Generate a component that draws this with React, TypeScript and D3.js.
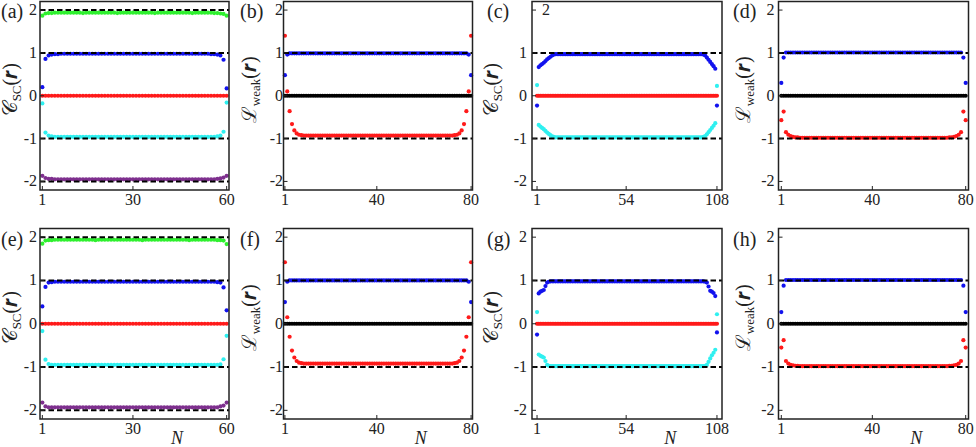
import React from "react";
import * as d3 from "d3";

// tick labels
const ticks60 = [1, 30, 60];
const ticks80 = [1, 40, 80];
const ticks108 = [1, 54, 108];
const yTicks = [-2, -1, 0, 1, 2];

// (a) C_SC, N = 60
const aGreen = [
  1.87, 1.92, 1.93, 1.93, 1.94, 1.94, 1.94, 1.94, 1.94, 1.94,
  1.94, 1.94, 1.94, 1.93, 1.94, 1.94, 1.94, 1.94, 1.94, 1.94,
  1.94, 1.94, 1.94, 1.94, 1.93, 1.94, 1.94, 1.94, 1.94, 1.94,
  1.94, 1.94, 1.94, 1.94, 1.94, 1.94, 1.93, 1.94, 1.94, 1.94,
  1.94, 1.94, 1.94, 1.94, 1.94, 1.94, 1.94, 1.94, 1.93, 1.94,
  1.94, 1.94, 1.94, 1.94, 1.94, 1.93, 1.93, 1.92, 1.91, 1.87,
];
const aBlue = [
  0.2, 0.86, 0.94, 0.96, 0.97, 0.97, 0.98, 0.98, 0.98, 0.98,
  0.98, 0.98, 0.98, 0.98, 0.98, 0.98, 0.98, 0.98, 0.98, 0.98,
  0.98, 0.98, 0.98, 0.98, 0.98, 0.98, 0.98, 0.98, 0.98, 0.98,
  0.98, 0.98, 0.98, 0.98, 0.98, 0.98, 0.98, 0.98, 0.98, 0.98,
  0.98, 0.98, 0.98, 0.98, 0.98, 0.98, 0.98, 0.98, 0.98, 0.98,
  0.98, 0.98, 0.98, 0.98, 0.97, 0.97, 0.96, 0.94, 0.84, 0.17,
];
const aRed = [
  0, 0, 0, 0, 0, 0, 0, 0, 0, 0,
  0, 0, 0, 0, 0, 0, 0, 0, 0, 0,
  0, 0, 0, 0, 0, 0, 0, 0, 0, 0,
  0, 0, 0, 0, 0, 0, 0, 0, 0, 0,
  0, 0, 0, 0, 0, 0, 0, 0, 0, 0,
  0, 0, 0, 0, 0, 0, 0, 0, 0, 0,
];
const aCyan = [
  -0.18, -0.86, -0.93, -0.95, -0.96, -0.96, -0.96, -0.96, -0.96, -0.96,
  -0.96, -0.96, -0.96, -0.96, -0.96, -0.96, -0.96, -0.96, -0.96, -0.96,
  -0.96, -0.96, -0.96, -0.96, -0.96, -0.96, -0.96, -0.96, -0.96, -0.96,
  -0.96, -0.96, -0.96, -0.96, -0.96, -0.96, -0.96, -0.96, -0.96, -0.96,
  -0.96, -0.96, -0.96, -0.96, -0.96, -0.96, -0.96, -0.96, -0.96, -0.96,
  -0.96, -0.96, -0.96, -0.96, -0.96, -0.96, -0.95, -0.93, -0.84, -0.16,
];
const aPurple = [
  -1.87, -1.92, -1.94, -1.94, -1.95, -1.95, -1.95, -1.95, -1.95, -1.95,
  -1.95, -1.95, -1.95, -1.95, -1.95, -1.95, -1.95, -1.95, -1.95, -1.95,
  -1.95, -1.95, -1.95, -1.95, -1.95, -1.95, -1.95, -1.95, -1.95, -1.95,
  -1.95, -1.95, -1.95, -1.95, -1.95, -1.95, -1.95, -1.95, -1.95, -1.95,
  -1.95, -1.95, -1.95, -1.95, -1.95, -1.95, -1.95, -1.95, -1.95, -1.95,
  -1.95, -1.95, -1.95, -1.95, -1.95, -1.95, -1.94, -1.93, -1.91, -1.87,
];

// (b) L_weak, N = 80
const bBlue = [
  0.48, 0.96, 0.99, 0.99, 0.99, 0.99, 0.99, 0.99, 0.99, 0.99,
  0.99, 0.99, 0.99, 0.99, 0.99, 0.99, 0.99, 0.99, 0.99, 0.99,
  0.99, 0.99, 0.99, 0.99, 0.99, 0.99, 0.99, 0.99, 0.99, 0.99,
  0.99, 0.99, 0.99, 0.99, 0.99, 0.99, 0.99, 0.99, 0.99, 0.99,
  0.99, 0.99, 0.99, 0.99, 0.99, 0.99, 0.99, 0.99, 0.99, 0.99,
  0.99, 0.99, 0.99, 0.99, 0.99, 0.99, 0.99, 0.99, 0.99, 0.99,
  0.99, 0.99, 0.99, 0.99, 0.99, 0.99, 0.99, 0.99, 0.99, 0.99,
  0.99, 0.99, 0.99, 0.99, 0.99, 0.99, 0.99, 0.99, 0.96, 0.48,
];
const bBlack = [
  0, 0, 0, 0, 0, 0, 0, 0, 0, 0,
  0, 0, 0, 0, 0, 0, 0, 0, 0, 0,
  0, 0, 0, 0, 0, 0, 0, 0, 0, 0,
  0, 0, 0, 0, 0, 0, 0, 0, 0, 0,
  0, 0, 0, 0, 0, 0, 0, 0, 0, 0,
  0, 0, 0, 0, 0, 0, 0, 0, 0, 0,
  0, 0, 0, 0, 0, 0, 0, 0, 0, 0,
  0, 0, 0, 0, 0, 0, 0, 0, 0, 0,
];
const bRed = [
  1.4, 0.1, -0.36, -0.66, -0.81, -0.88, -0.91, -0.92, -0.93, -0.93,
  -0.93, -0.93, -0.93, -0.93, -0.93, -0.93, -0.93, -0.93, -0.93, -0.93,
  -0.93, -0.93, -0.93, -0.93, -0.93, -0.93, -0.93, -0.93, -0.93, -0.93,
  -0.93, -0.93, -0.93, -0.93, -0.93, -0.93, -0.93, -0.93, -0.93, -0.93,
  -0.93, -0.93, -0.93, -0.93, -0.93, -0.93, -0.93, -0.93, -0.93, -0.93,
  -0.93, -0.93, -0.93, -0.93, -0.93, -0.93, -0.93, -0.93, -0.93, -0.93,
  -0.93, -0.93, -0.93, -0.93, -0.93, -0.93, -0.93, -0.93, -0.93, -0.93,
  -0.93, -0.93, -0.92, -0.91, -0.88, -0.81, -0.66, -0.36, 0.1, 1.4,
];

// (c) C_SC, N = 108
const cBlue = [
  -0.23, 0.67, 0.71, 0.74, 0.77, 0.81, 0.85, 0.88, 0.91, 0.94,
  0.96, 0.97, 0.97, 0.97, 0.97, 0.97, 0.97, 0.97, 0.97, 0.97,
  0.97, 0.97, 0.97, 0.97, 0.97, 0.97, 0.97, 0.97, 0.97, 0.97,
  0.97, 0.97, 0.97, 0.97, 0.97, 0.97, 0.97, 0.97, 0.97, 0.97,
  0.97, 0.97, 0.97, 0.97, 0.97, 0.97, 0.97, 0.97, 0.97, 0.97,
  0.97, 0.97, 0.97, 0.97, 0.97, 0.97, 0.97, 0.97, 0.97, 0.97,
  0.97, 0.97, 0.97, 0.97, 0.97, 0.97, 0.97, 0.97, 0.97, 0.97,
  0.97, 0.97, 0.97, 0.97, 0.97, 0.97, 0.97, 0.97, 0.97, 0.97,
  0.97, 0.97, 0.97, 0.97, 0.97, 0.97, 0.97, 0.97, 0.97, 0.97,
  0.97, 0.97, 0.97, 0.97, 0.97, 0.97, 0.97, 0.97, 0.97, 0.96,
  0.94, 0.89, 0.84, 0.79, 0.74, 0.69, 0.63, -0.23,
];
const cRed = [
  0, 0, 0, 0, 0, 0, 0, 0, 0, 0,
  0, 0, 0, 0, 0, 0, 0, 0, 0, 0,
  0, 0, 0, 0, 0, 0, 0, 0, 0, 0,
  0, 0, 0, 0, 0, 0, 0, 0, 0, 0,
  0, 0, 0, 0, 0, 0, 0, 0, 0, 0,
  0, 0, 0, 0, 0, 0, 0, 0, 0, 0,
  0, 0, 0, 0, 0, 0, 0, 0, 0, 0,
  0, 0, 0, 0, 0, 0, 0, 0, 0, 0,
  0, 0, 0, 0, 0, 0, 0, 0, 0, 0,
  0, 0, 0, 0, 0, 0, 0, 0, 0, 0,
  0, 0, 0, 0, 0, 0, 0, 0,
];
const cCyan = [
  0.25, -0.68, -0.72, -0.75, -0.78, -0.82, -0.86, -0.89, -0.92, -0.95,
  -0.96, -0.97, -0.97, -0.97, -0.97, -0.97, -0.97, -0.97, -0.97, -0.97,
  -0.97, -0.97, -0.97, -0.97, -0.97, -0.97, -0.97, -0.97, -0.97, -0.97,
  -0.97, -0.97, -0.97, -0.97, -0.97, -0.97, -0.97, -0.97, -0.97, -0.97,
  -0.97, -0.97, -0.97, -0.97, -0.97, -0.97, -0.97, -0.97, -0.97, -0.97,
  -0.97, -0.97, -0.97, -0.97, -0.97, -0.97, -0.97, -0.97, -0.97, -0.97,
  -0.97, -0.97, -0.97, -0.97, -0.97, -0.97, -0.97, -0.97, -0.97, -0.97,
  -0.97, -0.97, -0.97, -0.97, -0.97, -0.97, -0.97, -0.97, -0.97, -0.97,
  -0.97, -0.97, -0.97, -0.97, -0.97, -0.97, -0.97, -0.97, -0.97, -0.97,
  -0.97, -0.97, -0.97, -0.97, -0.97, -0.97, -0.97, -0.97, -0.97, -0.96,
  -0.94, -0.9, -0.85, -0.8, -0.75, -0.7, -0.64, 0.23,
];

// (d) L_weak, N = 80
const dBlue = [
  0.3, 0.89, 1.01, 1.01, 1.01, 1.01, 1.01, 1.01, 1.01, 1.01,
  1.01, 1.01, 1.01, 1.01, 1.01, 1.01, 1.01, 1.01, 1.01, 1.01,
  1.01, 1.01, 1.01, 1.01, 1.01, 1.01, 1.01, 1.01, 1.01, 1.01,
  1.01, 1.01, 1.01, 1.01, 1.01, 1.01, 1.01, 1.01, 1.01, 1.01,
  1.01, 1.01, 1.01, 1.01, 1.01, 1.01, 1.01, 1.01, 1.01, 1.01,
  1.01, 1.01, 1.01, 1.01, 1.01, 1.01, 1.01, 1.01, 1.01, 1.01,
  1.01, 1.01, 1.01, 1.01, 1.01, 1.01, 1.01, 1.01, 1.01, 1.01,
  1.01, 1.01, 1.01, 1.01, 1.01, 1.01, 1.01, 1.01, 0.89, 0.3,
];
const dBlack = [
  0, 0, 0, 0, 0, 0, 0, 0, 0, 0,
  0, 0, 0, 0, 0, 0, 0, 0, 0, 0,
  0, 0, 0, 0, 0, 0, 0, 0, 0, 0,
  0, 0, 0, 0, 0, 0, 0, 0, 0, 0,
  0, 0, 0, 0, 0, 0, 0, 0, 0, 0,
  0, 0, 0, 0, 0, 0, 0, 0, 0, 0,
  0, 0, 0, 0, 0, 0, 0, 0, 0, 0,
  0, 0, 0, 0, 0, 0, 0, 0, 0, 0,
];
const dRed = [
  -0.57, -0.37, -0.85, -0.91, -0.94, -0.96, -0.97, -0.97, -0.98, -0.98,
  -0.98, -0.98, -0.98, -0.98, -0.98, -0.98, -0.98, -0.98, -0.98, -0.98,
  -0.98, -0.98, -0.98, -0.98, -0.98, -0.98, -0.98, -0.98, -0.98, -0.98,
  -0.98, -0.98, -0.98, -0.98, -0.98, -0.98, -0.98, -0.98, -0.98, -0.98,
  -0.98, -0.98, -0.98, -0.98, -0.98, -0.98, -0.98, -0.98, -0.98, -0.98,
  -0.98, -0.98, -0.98, -0.98, -0.98, -0.98, -0.98, -0.98, -0.98, -0.98,
  -0.98, -0.98, -0.98, -0.98, -0.98, -0.98, -0.98, -0.98, -0.98, -0.98,
  -0.98, -0.98, -0.97, -0.97, -0.96, -0.94, -0.91, -0.85, -0.37, -0.57,
];

// (e) C_SC, N = 60
const eGreen = [
  1.85, 1.92, 1.93, 1.93, 1.94, 1.94, 1.94, 1.94, 1.94, 1.94,
  1.94, 1.94, 1.94, 1.94, 1.94, 1.94, 1.94, 1.93, 1.94, 1.94,
  1.94, 1.94, 1.94, 1.94, 1.94, 1.94, 1.94, 1.94, 1.94, 1.94,
  1.94, 1.94, 1.93, 1.94, 1.94, 1.94, 1.94, 1.94, 1.94, 1.94,
  1.94, 1.94, 1.94, 1.94, 1.94, 1.94, 1.94, 1.93, 1.94, 1.94,
  1.94, 1.94, 1.94, 1.94, 1.94, 1.94, 1.93, 1.93, 1.92, 1.84,
];
const eBlue = [
  0.4, 0.85, 0.95, 0.96, 0.97, 0.97, 0.97, 0.97, 0.97, 0.97,
  0.97, 0.97, 0.97, 0.97, 0.97, 0.97, 0.97, 0.97, 0.97, 0.97,
  0.97, 0.97, 0.97, 0.97, 0.97, 0.97, 0.97, 0.97, 0.97, 0.97,
  0.97, 0.97, 0.97, 0.97, 0.97, 0.97, 0.97, 0.97, 0.97, 0.97,
  0.97, 0.97, 0.97, 0.97, 0.97, 0.97, 0.97, 0.97, 0.97, 0.97,
  0.97, 0.97, 0.97, 0.97, 0.97, 0.97, 0.96, 0.95, 0.84, 0.31,
];
const eRed = [
  0, 0, 0, 0, 0, 0, 0, 0, 0, 0,
  0, 0, 0, 0, 0, 0, 0, 0, 0, 0,
  0, 0, 0, 0, 0, 0, 0, 0, 0, 0,
  0, 0, 0, 0, 0, 0, 0, 0, 0, 0,
  0, 0, 0, 0, 0, 0, 0, 0, 0, 0,
  0, 0, 0, 0, 0, 0, 0, 0, 0, 0,
];
const eCyan = [
  -0.17, -0.83, -0.93, -0.95, -0.95, -0.95, -0.95, -0.95, -0.95, -0.95,
  -0.95, -0.95, -0.95, -0.95, -0.95, -0.95, -0.95, -0.95, -0.95, -0.95,
  -0.95, -0.95, -0.95, -0.95, -0.95, -0.95, -0.95, -0.95, -0.95, -0.95,
  -0.95, -0.95, -0.95, -0.95, -0.95, -0.95, -0.95, -0.95, -0.95, -0.95,
  -0.95, -0.95, -0.95, -0.95, -0.95, -0.95, -0.95, -0.95, -0.95, -0.95,
  -0.95, -0.95, -0.95, -0.95, -0.95, -0.95, -0.95, -0.94, -0.82, -0.28,
];
const ePurple = [
  -1.82, -1.91, -1.93, -1.93, -1.93, -1.93, -1.93, -1.93, -1.93, -1.93,
  -1.93, -1.93, -1.93, -1.93, -1.93, -1.93, -1.93, -1.93, -1.93, -1.93,
  -1.93, -1.93, -1.93, -1.93, -1.93, -1.93, -1.93, -1.93, -1.93, -1.93,
  -1.93, -1.93, -1.93, -1.93, -1.93, -1.93, -1.93, -1.93, -1.93, -1.93,
  -1.93, -1.93, -1.93, -1.93, -1.93, -1.93, -1.93, -1.93, -1.93, -1.93,
  -1.93, -1.93, -1.93, -1.93, -1.93, -1.93, -1.93, -1.91, -1.89, -1.82,
];

// (f) L_weak, N = 80
const fBlue = [
  0.5, 0.97, 1.0, 1.0, 1.0, 1.0, 1.0, 1.0, 1.0, 1.0,
  1.0, 1.0, 1.0, 1.0, 1.0, 1.0, 1.0, 1.0, 1.0, 1.0,
  1.0, 1.0, 1.0, 1.0, 1.0, 1.0, 1.0, 1.0, 1.0, 1.0,
  1.0, 1.0, 1.0, 1.0, 1.0, 1.0, 1.0, 1.0, 1.0, 1.0,
  1.0, 1.0, 1.0, 1.0, 1.0, 1.0, 1.0, 1.0, 1.0, 1.0,
  1.0, 1.0, 1.0, 1.0, 1.0, 1.0, 1.0, 1.0, 1.0, 1.0,
  1.0, 1.0, 1.0, 1.0, 1.0, 1.0, 1.0, 1.0, 1.0, 1.0,
  1.0, 1.0, 1.0, 1.0, 1.0, 1.0, 1.0, 1.0, 0.97, 0.5,
];
const fBlack = [
  0, 0, 0, 0, 0, 0, 0, 0, 0, 0,
  0, 0, 0, 0, 0, 0, 0, 0, 0, 0,
  0, 0, 0, 0, 0, 0, 0, 0, 0, 0,
  0, 0, 0, 0, 0, 0, 0, 0, 0, 0,
  0, 0, 0, 0, 0, 0, 0, 0, 0, 0,
  0, 0, 0, 0, 0, 0, 0, 0, 0, 0,
  0, 0, 0, 0, 0, 0, 0, 0, 0, 0,
  0, 0, 0, 0, 0, 0, 0, 0, 0, 0,
];
const fRed = [
  1.42, 0.15, -0.3, -0.62, -0.78, -0.86, -0.9, -0.91, -0.92, -0.92,
  -0.92, -0.92, -0.92, -0.92, -0.92, -0.92, -0.92, -0.92, -0.92, -0.92,
  -0.92, -0.92, -0.92, -0.92, -0.92, -0.92, -0.92, -0.92, -0.92, -0.92,
  -0.92, -0.92, -0.92, -0.92, -0.92, -0.92, -0.92, -0.92, -0.92, -0.92,
  -0.92, -0.92, -0.92, -0.92, -0.92, -0.92, -0.92, -0.92, -0.92, -0.92,
  -0.92, -0.92, -0.92, -0.92, -0.92, -0.92, -0.92, -0.92, -0.92, -0.92,
  -0.92, -0.92, -0.92, -0.92, -0.92, -0.92, -0.92, -0.92, -0.92, -0.92,
  -0.92, -0.92, -0.91, -0.9, -0.86, -0.78, -0.62, -0.3, 0.15, 1.42,
];

// (g) C_SC, N = 108
const gBlue = [
  -0.25, 0.7, 0.74, 0.76, 0.78, 0.87, 0.95, 0.97, 0.98, 0.98,
  0.98, 0.98, 0.98, 0.98, 0.98, 0.98, 0.98, 0.98, 0.98, 0.98,
  0.98, 0.98, 0.98, 0.98, 0.98, 0.98, 0.98, 0.98, 0.98, 0.98,
  0.98, 0.98, 0.98, 0.98, 0.98, 0.98, 0.98, 0.98, 0.98, 0.98,
  0.98, 0.98, 0.98, 0.98, 0.98, 0.98, 0.98, 0.98, 0.98, 0.98,
  0.98, 0.98, 0.98, 0.98, 0.98, 0.98, 0.98, 0.98, 0.98, 0.98,
  0.98, 0.98, 0.98, 0.98, 0.98, 0.98, 0.98, 0.98, 0.98, 0.98,
  0.98, 0.98, 0.98, 0.98, 0.98, 0.98, 0.98, 0.98, 0.98, 0.98,
  0.98, 0.98, 0.98, 0.98, 0.98, 0.98, 0.98, 0.98, 0.98, 0.98,
  0.98, 0.98, 0.98, 0.98, 0.98, 0.98, 0.98, 0.98, 0.98, 0.98,
  0.97, 0.95, 0.86, 0.76, 0.74, 0.71, 0.64, -0.2,
];
const gRed = [
  0, 0, 0, 0, 0, 0, 0, 0, 0, 0,
  0, 0, 0, 0, 0, 0, 0, 0, 0, 0,
  0, 0, 0, 0, 0, 0, 0, 0, 0, 0,
  0, 0, 0, 0, 0, 0, 0, 0, 0, 0,
  0, 0, 0, 0, 0, 0, 0, 0, 0, 0,
  0, 0, 0, 0, 0, 0, 0, 0, 0, 0,
  0, 0, 0, 0, 0, 0, 0, 0, 0, 0,
  0, 0, 0, 0, 0, 0, 0, 0, 0, 0,
  0, 0, 0, 0, 0, 0, 0, 0, 0, 0,
  0, 0, 0, 0, 0, 0, 0, 0, 0, 0,
  0, 0, 0, 0, 0, 0, 0, 0,
];
const gCyan = [
  0.27, -0.71, -0.74, -0.76, -0.78, -0.86, -0.95, -0.97, -0.98, -0.98,
  -0.98, -0.98, -0.98, -0.98, -0.98, -0.98, -0.98, -0.98, -0.98, -0.98,
  -0.98, -0.98, -0.98, -0.98, -0.98, -0.98, -0.98, -0.98, -0.98, -0.98,
  -0.98, -0.98, -0.98, -0.98, -0.98, -0.98, -0.98, -0.98, -0.98, -0.98,
  -0.98, -0.98, -0.98, -0.98, -0.98, -0.98, -0.98, -0.98, -0.98, -0.98,
  -0.98, -0.98, -0.98, -0.98, -0.98, -0.98, -0.98, -0.98, -0.98, -0.98,
  -0.98, -0.98, -0.98, -0.98, -0.98, -0.98, -0.98, -0.98, -0.98, -0.98,
  -0.98, -0.98, -0.98, -0.98, -0.98, -0.98, -0.98, -0.98, -0.98, -0.98,
  -0.98, -0.98, -0.98, -0.98, -0.98, -0.98, -0.98, -0.98, -0.98, -0.98,
  -0.98, -0.98, -0.98, -0.98, -0.98, -0.98, -0.98, -0.98, -0.98, -0.98,
  -0.97, -0.95, -0.88, -0.8, -0.73, -0.67, -0.6, 0.22,
];

// (h) L_weak, N = 80
const hBlue = [
  0.27, 0.88, 1.01, 1.01, 1.01, 1.01, 1.01, 1.01, 1.01, 1.01,
  1.01, 1.01, 1.01, 1.01, 1.01, 1.01, 1.01, 1.01, 1.01, 1.01,
  1.01, 1.01, 1.01, 1.01, 1.01, 1.01, 1.01, 1.01, 1.01, 1.01,
  1.01, 1.01, 1.01, 1.01, 1.01, 1.01, 1.01, 1.01, 1.01, 1.01,
  1.01, 1.01, 1.01, 1.01, 1.01, 1.01, 1.01, 1.01, 1.01, 1.01,
  1.01, 1.01, 1.01, 1.01, 1.01, 1.01, 1.01, 1.01, 1.01, 1.01,
  1.01, 1.01, 1.01, 1.01, 1.01, 1.01, 1.01, 1.01, 1.01, 1.01,
  1.01, 1.01, 1.01, 1.01, 1.01, 1.01, 1.01, 1.01, 0.88, 0.27,
];
const hBlack = [
  0, 0, 0, 0, 0, 0, 0, 0, 0, 0,
  0, 0, 0, 0, 0, 0, 0, 0, 0, 0,
  0, 0, 0, 0, 0, 0, 0, 0, 0, 0,
  0, 0, 0, 0, 0, 0, 0, 0, 0, 0,
  0, 0, 0, 0, 0, 0, 0, 0, 0, 0,
  0, 0, 0, 0, 0, 0, 0, 0, 0, 0,
  0, 0, 0, 0, 0, 0, 0, 0, 0, 0,
  0, 0, 0, 0, 0, 0, 0, 0, 0, 0,
];
const hRed = [
  -0.55, -0.38, -0.86, -0.92, -0.95, -0.96, -0.97, -0.97, -0.98, -0.98,
  -0.98, -0.98, -0.98, -0.98, -0.98, -0.98, -0.98, -0.98, -0.98, -0.98,
  -0.98, -0.98, -0.98, -0.98, -0.98, -0.98, -0.98, -0.98, -0.98, -0.98,
  -0.98, -0.98, -0.98, -0.98, -0.98, -0.98, -0.98, -0.98, -0.98, -0.98,
  -0.98, -0.98, -0.98, -0.98, -0.98, -0.98, -0.98, -0.98, -0.98, -0.98,
  -0.98, -0.98, -0.98, -0.98, -0.98, -0.98, -0.98, -0.98, -0.98, -0.98,
  -0.98, -0.98, -0.98, -0.98, -0.98, -0.98, -0.98, -0.98, -0.98, -0.98,
  -0.98, -0.98, -0.97, -0.97, -0.96, -0.95, -0.92, -0.86, -0.38, -0.55,
];

const GREEN = "#2ef02e";
const BLUE = "#1212ee";
const RED = "#ff1a1a";
const CYAN = "#2ff0f0";
const PURPLE = "#7e2f8e";
const BLACK = "#000";

const INK = "#222";
// serif face, set on every text so nothing falls back to a sans
const TXT = { fontFamily: "Liberation Serif" };

type Series = { values: number[]; color: string };
type PanelDef = {
  letter: string;
  kind: "sc" | "weak";
  ticks: number[];
  series: Series[];
  dashed: number[];
};

const panels: PanelDef[] = [
  { letter: "a", kind: "sc", ticks: ticks60, dashed: [2, 1, -1, -2],
    series: [{ values: aRed, color: RED }, { values: aGreen, color: GREEN }, { values: aBlue, color: BLUE }, { values: aCyan, color: CYAN }, { values: aPurple, color: PURPLE }] },
  { letter: "b", kind: "weak", ticks: ticks80, dashed: [1, -1],
    series: [{ values: bBlack, color: BLACK }, { values: bBlue, color: BLUE }, { values: bRed, color: RED }] },
  { letter: "c", kind: "sc", ticks: ticks108, dashed: [1, -1],
    series: [{ values: cRed, color: RED }, { values: cBlue, color: BLUE }, { values: cCyan, color: CYAN }] },
  { letter: "d", kind: "weak", ticks: ticks80, dashed: [1, -1],
    series: [{ values: dBlack, color: BLACK }, { values: dBlue, color: BLUE }, { values: dRed, color: RED }] },
  { letter: "e", kind: "sc", ticks: ticks60, dashed: [2, 1, -1, -2],
    series: [{ values: eRed, color: RED }, { values: eGreen, color: GREEN }, { values: eBlue, color: BLUE }, { values: eCyan, color: CYAN }, { values: ePurple, color: PURPLE }] },
  { letter: "f", kind: "weak", ticks: ticks80, dashed: [1, -1],
    series: [{ values: fBlack, color: BLACK }, { values: fBlue, color: BLUE }, { values: fRed, color: RED }] },
  { letter: "g", kind: "sc", ticks: ticks108, dashed: [1, -1],
    series: [{ values: gRed, color: RED }, { values: gBlue, color: BLUE }, { values: gCyan, color: CYAN }] },
  { letter: "h", kind: "weak", ticks: ticks80, dashed: [1, -1],
    series: [{ values: hBlack, color: BLACK }, { values: hBlue, color: BLUE }, { values: hRed, color: RED }] },
];

// frame boxes of the columns and rows
const cols = [
  { x0: 40, x1: 229, pad: 0.75, gap: 3, labelX: 17, letterX: 1 },
  { x0: 283.5, x1: 472.5, pad: 0.6, gap: 0.5, labelX: 256, letterX: 240 },
  { x0: 532, x1: 722, pad: 3, gap: 5, labelX: 498, letterX: 487 },
  { x0: 778.5, x1: 968.5, pad: 1.2, gap: 4, labelX: 750, letterX: 733 },
];
const rows = [
  { y0: 1.5, y1: 190, letterY: 18 },
  { y0: 228.5, y1: 419, letterY: 246 },
];

function Panel({ p, i }: { p: PanelDef; i: number }) {
  const c = cols[i % 4];
  const r = rows[Math.floor(i / 4)];
  const n = p.series[0].values.length;
  const x = d3.scaleLinear().domain([1 - c.pad, n + c.pad]).range([c.x0, c.x1]);
  const y = d3.scaleLinear().domain([-2.2, 2.2]).range([r.y1, r.y0]);
  const midY = (r.y0 + r.y1) / 2 - 6;
  // in panel (c) the top label "2" sits just inside the frame
  const tickLabelX = (t: number) => (p.letter === "c" && t === 2 ? c.x0 + 18 : c.x0 - c.gap);
  return (
    <g>
      {p.series.map((s, k) => (
        <g key={k} fill={s.color}>
          {s.values.map((v, j) => (
            <circle key={j} cx={x(j + 1)} cy={y(v)} r={2.1} />
          ))}
        </g>
      ))}
      {p.dashed.map((v) => (
        <line key={v} x1={c.x0} x2={c.x1} y1={y(v)} y2={y(v)} stroke="#000" strokeWidth={2} strokeDasharray="5.5 3" />
      ))}
      <rect x={c.x0} y={r.y0} width={c.x1 - c.x0} height={r.y1 - r.y0} fill="none" stroke={INK} strokeWidth={1.5} />
      {yTicks.map((t) => (
        <g key={t}>
          <line x1={c.x0} x2={c.x0 + 4} y1={y(t)} y2={y(t)} stroke={INK} strokeWidth={1} />
          <text x={tickLabelX(t)} y={y(t) + 5} textAnchor="end" fontSize={16} fill={INK} style={TXT}>{t < 0 ? `-${-t}` : `${t}`}</text>
        </g>
      ))}
      {p.ticks.map((t) => (
        <g key={t}>
          <line x1={x(t)} x2={x(t)} y1={r.y1} y2={r.y1 - 4} stroke={INK} strokeWidth={1} />
          <text x={x(t)} y={r.y1 + 15} textAnchor="middle" fontSize={16} fill={INK} style={TXT}>{t}</text>
        </g>
      ))}
      <text x={c.letterX} y={r.letterY} fontSize={20} fill={INK} style={TXT}>({p.letter})</text>
      <text transform={`translate(${c.labelX},${midY}) rotate(-90)`} textAnchor="middle" fontSize={20} fill={INK} style={TXT}>
        {p.kind === "sc" ? (
          <>
            <tspan>𝒞</tspan>
            <tspan fontSize={13} dy={4}>SC</tspan>
          </>
        ) : (
          <>
            <tspan>ℒ</tspan>
            <tspan fontSize={13} dy={4}>weak</tspan>
          </>
        )}
        <tspan dy={-4}>(𝒓)</tspan>
      </text>
      {i >= 4 && (
        <text x={x(p.ticks[1]) + 44} y={444} textAnchor="middle" fontSize={18} fontStyle="italic" fill={INK} style={TXT}>N</text>
      )}
    </g>
  );
}

export default function App() {
  return (
    <svg width={976} height={447} viewBox="0 0 976 447" style={{ display: "block", position: "absolute", left: 0, top: 0, background: "#fff" }}>
      {panels.map((p, i) => (
        <Panel key={p.letter} p={p} i={i} />
      ))}
    </svg>
  );
}
